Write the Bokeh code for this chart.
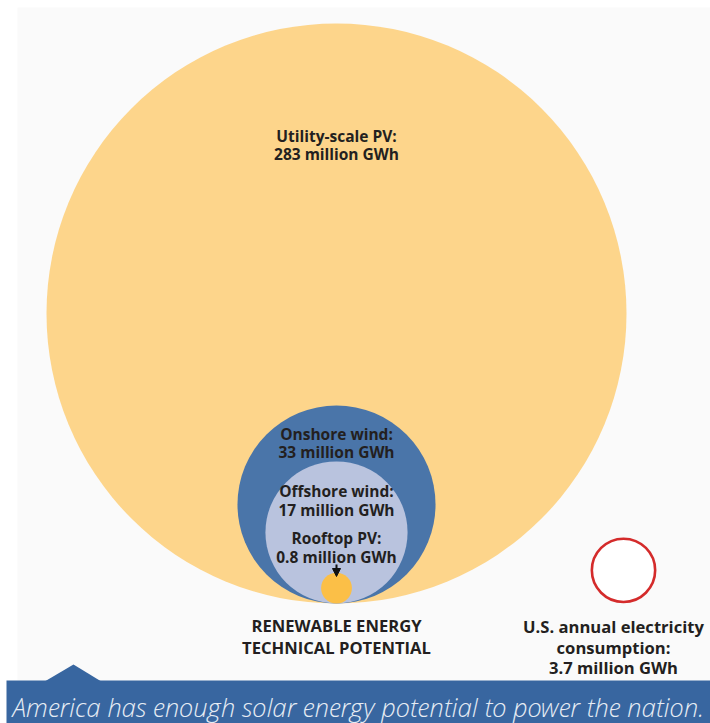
import math
from bokeh.plotting import figure
from bokeh.models import Range1d, Arrow, NormalHead, ColumnDataSource
from bokeh.core.properties import value
from bokeh.embed import file_html
from bokeh.resources import INLINE

# ---- data (million GWh) ----
names = ["Utility-scale PV", "Onshore wind", "Offshore wind", "Rooftop PV"]
potential = [283, 33, 17, 0.8]
colors = ["#fdd58b", "#4a75a9", "#b9c3de", "#fbbf47"]
consumption_lines = ["U.S. annual electricity", "consumption:"]
consumption = [3.7]
group_title = ["RENEWABLE ENERGY", "TECHNICAL POTENTIAL"]
banner_text = "America has enough solar energy potential to power the nation."

# ---- layout ----
W, H = 710, 723
k = 290 / math.sqrt(283)      # px per sqrt(million GWh)
baseline = 603
cx_main = 336
cx_cons = 623
FONT = value("Open Sans")
TXT = "#231f20"

p = figure(width=W, height=H, output_backend="svg", toolbar_location=None,
           x_range=Range1d(0, W), y_range=Range1d(H, 0),
           min_border=0, background_fill_color="#ffffff", border_fill_color="#ffffff")
p.axis.visible = False
p.grid.visible = False
p.outline_line_color = None

# light background panel
p.quad(left=[17], right=[W], top=[7], bottom=[H], fill_color="#fafafa", line_color=None)

# nested circles, bottom aligned, area ~ value
radii = [k * math.sqrt(v) for v in potential]
src = ColumnDataSource(dict(
    x=[cx_main] * len(potential),
    y=[baseline - r for r in radii],
    r=radii, c=colors))
p.circle(x="x", y="y", radius="r", fill_color="c", line_color=None, source=src)

# consumption circle
rc = k * math.sqrt(consumption[0])
p.circle(x=[cx_cons], y=[baseline - rc], radius=[rc - 1.5], fill_color="#ffffff",
         line_color="#d42b2b", line_width=2.6)

# labels inside circles
label_y = [(135, 153), (433, 451), (490, 509), (537, 556)]
for nm, v, (y1, y2) in zip(names, potential, label_y):
    p.text(x=[cx_main, cx_main], y=[y1, y2], text=[nm + ":", f"{v} million GWh"],
           text_font=FONT, text_font_style="bold", text_font_size="15.5px",
           text_color=TXT, text_align="center", text_baseline="middle")

# arrow to rooftop PV
p.add_layout(Arrow(end=NormalHead(size=8, fill_color="#111111", line_color="#111111"),
                   x_start=cx_main, y_start=564, x_end=cx_main, y_end=576,
                   line_color="#111111", line_width=2))

# group title
p.text(x=[cx_main, cx_main], y=[625, 647], text=group_title,
       text_font=FONT, text_font_style="bold", text_font_size="16.6px",
       text_color=TXT, text_align="center", text_baseline="middle")

# consumption label
p.text(x=[613, 613, 613], y=[626, 647, 667],
       text=consumption_lines + [f"{consumption[0]} million GWh"],
       text_font=FONT, text_font_style="bold", text_font_size="16.6px",
       text_color=TXT, text_align="center", text_baseline="middle")

# banner
BANNER = "#3866a0"
p.quad(left=[6], right=[W], top=[680], bottom=[H], fill_color=BANNER, line_color=None)
p.patch(x=[45, 73, 100], y=[680.5, 664, 680.5], fill_color=BANNER, line_color=None)
p.text(x=[12], y=[706], text=[banner_text], text_font=value("'Open Sans Light', 'Open Sans'"),
       text_font_style="italic",
       text_font_size="25.8px", text_color="#e6ecf4", text_align="left", text_baseline="middle")

open("out.html", "w").write(file_html(p, INLINE))
